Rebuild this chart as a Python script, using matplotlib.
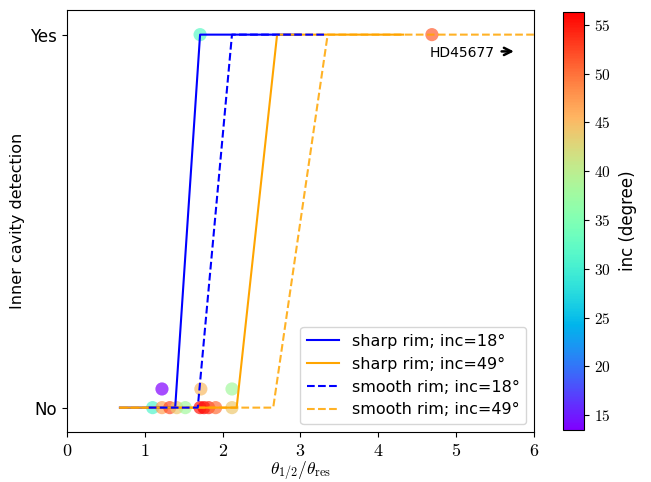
import numpy as np
import matplotlib
matplotlib.use("Agg")
import matplotlib.pyplot as plt
from matplotlib.ticker import FuncFormatter

plt.rcParams['mathtext.fontset'] = 'cm'
plt.rcParams['font.family'] = ['DejaVu Sans']

# observed discs: ratio theta_1/2 / theta_res, detection (0/1 + offset), inclination
obs_ratio = [1.10, 1.22, 1.32, 1.41, 1.52, 1.71, 1.76, 1.82, 1.91, 2.12,
             1.22, 1.72, 2.12, 1.71, 4.69]
obs_detect = [0, 0, 0, 0, 0, 0, 0, 0, 0, 0,
              0.05, 0.05, 0.05, 1, 1]
obs_inc = [31, 47, 52, 44, 38, 55, 56.3, 54, 50, 44,
           13.5, 45, 38, 32, 51]

# model curves
sharp18_x = [0.68, 1.39, 1.71, 3.0]
sharp18_y = [0, 0, 1, 1]
sharp49_x = [0.68, 2.18, 2.70, 4.32]
sharp49_y = [0, 0, 1, 1]
smooth18_x = [1.05, 1.68, 2.12, 3.34]
smooth18_y = [0, 0, 1, 1]
smooth49_x = [0.68, 2.65, 3.35, 6.0]
smooth49_y = [0, 0, 1, 1]

fig = plt.figure(figsize=(6.51, 4.82), dpi=100)
ax = fig.add_axes([0.103, 0.104, 0.717, 0.876])
cax = fig.add_axes([0.865, 0.108, 0.032, 0.867])

sc = ax.scatter(obs_ratio, obs_detect, c=obs_inc, cmap='rainbow', s=90,
                alpha=0.7, edgecolors='none', zorder=1)

ax.plot(sharp18_x, sharp18_y, color='blue', lw=1.5, label='sharp rim; inc=18°', zorder=2)
ax.plot(sharp49_x, sharp49_y, color='orange', lw=1.5,
        label='sharp rim; inc=49°', zorder=2)
ax.plot(smooth49_x, smooth49_y, color='orange', lw=1.5, ls='--', alpha=0.85,
        label='smooth rim; inc=49°', zorder=2)
ax.plot(smooth18_x, smooth18_y, color='blue', lw=1.5, ls='--',
        label='smooth rim; inc=18°', zorder=2)

ax.text(5.5, 0.952, 'HD45677', fontsize=10, ha='right', va='center')
ax.annotate('', xy=(5.78, 0.955), xytext=(5.55, 0.955),
            arrowprops=dict(arrowstyle='->', color='k', lw=1.8, mutation_scale=13))

ax.set_xlim(0, 6)
ax.set_ylim(-0.065, 1.067)
ax.set_yticks([0, 1])
ax.set_yticklabels(['No', 'Yes'], fontsize=12)
ax.xaxis.set_major_formatter(FuncFormatter(lambda v, p: '$%d$' % v))
ax.tick_params(axis='x', labelsize=13)
ax.set_xlabel(r'$\theta_{1/2}/\theta_{\rm res}$', fontsize=12.5, labelpad=0)
ax.set_ylabel('Inner cavity detection', fontsize=11.5)

handles, labels = ax.get_legend_handles_labels()
order = [0, 1, 3, 2]
ax.legend([handles[i] for i in order], [labels[i] for i in order],
          loc='lower right', fontsize=11.5)

cb = fig.colorbar(sc, cax=cax)
cb.solids.set_alpha(1)
cb.set_ticks([15, 20, 25, 30, 35, 40, 45, 50, 55])
cb.ax.yaxis.set_major_formatter(FuncFormatter(lambda v, p: '$%d$' % v))
cb.ax.tick_params(labelsize=11)
cb.set_label('inc (degree)', fontsize=12, labelpad=6)

fig.savefig('out.png', dpi=100)
